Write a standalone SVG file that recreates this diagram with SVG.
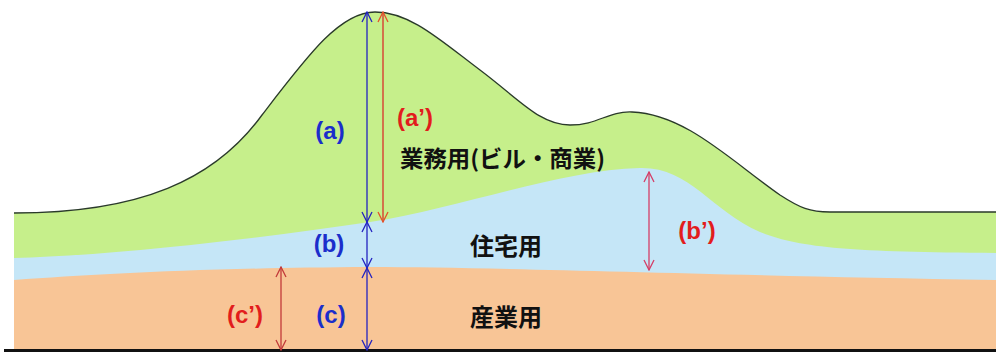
<svg xmlns="http://www.w3.org/2000/svg" width="996" height="353" viewBox="0 0 996 353">
<style>
.lbl{font-family:"Liberation Sans",Arial,sans-serif;font-weight:bold;font-size:24px;text-anchor:middle;dominant-baseline:central}
.blue{fill:#1B2ECB}
.red{fill:#E21D1D}
.jp{font-family:"Noto Sans CJK JP","Liberation Sans",sans-serif;font-weight:bold;fill:#111;dominant-baseline:central}
.ar{fill:none;stroke-width:1.3}
</style>
<defs>
<marker id="mb" viewBox="0 0 12 12" markerWidth="12" markerHeight="12" refX="11" refY="6" orient="auto-start-reverse" markerUnits="userSpaceOnUse"><path d="M1,1 L11,6 L1,11" fill="none" stroke="#2323C0" stroke-width="1.3"/></marker>
<marker id="ma" viewBox="0 0 12 12" markerWidth="12" markerHeight="12" refX="11" refY="6" orient="auto-start-reverse" markerUnits="userSpaceOnUse"><path d="M1,1 L11,6 L1,11" fill="none" stroke="#E2532A" stroke-width="1.3"/></marker>
<marker id="mbp" viewBox="0 0 12 12" markerWidth="12" markerHeight="12" refX="11" refY="6" orient="auto-start-reverse" markerUnits="userSpaceOnUse"><path d="M1,1 L11,6 L1,11" fill="none" stroke="#D43E66" stroke-width="1.3"/></marker>
<marker id="mc" viewBox="0 0 12 12" markerWidth="12" markerHeight="12" refX="11" refY="6" orient="auto-start-reverse" markerUnits="userSpaceOnUse"><path d="M1,1 L11,6 L1,11" fill="none" stroke="#C23A3A" stroke-width="1.3"/></marker>
</defs>
<rect width="996" height="353" fill="#fff"/>
<g id="layers">
<path id="office" d="M14,213 C140,213 215,180 262,115 C308,55 340,12 375,12 C410,12 440,40 480,70 C520,100 540,125 570,125 C598,125 608,111 632,112 C685,114 730,160 780,195 C800,208 810,212 830,212 L996,212 L996,350 L14,350 Z" fill="#C6EF8B"/>
<path id="residential" d="M14,258 C100,256 250,240 370,222 C460,208 560,170 640,168 C690,167 710,210 760,232 C800,248 850,252 996,253 L996,350 L14,350 Z" fill="#C5E6F7"/>
<path id="industrial" d="M14,280 C100,274 200,268 370,267 C500,267 700,275 996,280 L996,350 L14,350 Z" fill="#F8C596"/>
<path id="skyline" d="M14,213 C140,213 215,180 262,115 C308,55 340,12 375,12 C410,12 440,40 480,70 C520,100 540,125 570,125 C598,125 608,111 632,112 C685,114 730,160 780,195 C800,208 810,212 830,212 L996,212" fill="none" stroke="#2A3A2A" stroke-width="1.3"/>
<line x1="4" y1="350.5" x2="996" y2="350.5" stroke="#111" stroke-width="3"/>
</g>
<g id="connectors">
<line class="ar" x1="367" y1="12" x2="367" y2="222" stroke="#2323C0" marker-start="url(#mb)" marker-end="url(#mb)"/>
<line class="ar" x1="367" y1="222" x2="367" y2="268" stroke="#2323C0" marker-start="url(#mb)" marker-end="url(#mb)"/>
<line class="ar" x1="367" y1="268" x2="367" y2="350" stroke="#2323C0" marker-start="url(#mb)" marker-end="url(#mb)"/>
<line class="ar" x1="383" y1="12" x2="383" y2="222" stroke="#D9302A" marker-start="url(#ma)" marker-end="url(#ma)"/>
<line class="ar" x1="649" y1="172" x2="649" y2="270" stroke="#D43E66" marker-start="url(#mbp)" marker-end="url(#mbp)"/>
<line class="ar" x1="281" y1="267" x2="281" y2="350" stroke="#C23A3A" marker-start="url(#mc)" marker-end="url(#mc)"/>
</g>
<g id="label-a"><text class="lbl blue" x="330" y="130">(a)</text></g>
<g id="label-a2"><text class="lbl red" x="415" y="117">(a’)</text></g>
<g id="label-office"><text class="jp" x="400" y="157" font-size="23" textLength="205" lengthAdjust="spacingAndGlyphs">業務用(ビル・商業)</text></g>
<g id="label-b"><text class="lbl blue" x="329" y="243">(b)</text></g>
<g id="label-residential"><text class="jp" x="470" y="244" font-size="24">住宅用</text></g>
<g id="label-b2"><text class="lbl red" x="697" y="230">(b’)</text></g>
<g id="label-c"><text class="lbl blue" x="331" y="314">(c)</text></g>
<g id="label-c2"><text class="lbl red" x="245" y="314">(c’)</text></g>
<g id="label-industrial"><text class="jp" x="470" y="315" font-size="24">産業用</text></g>
</svg>
